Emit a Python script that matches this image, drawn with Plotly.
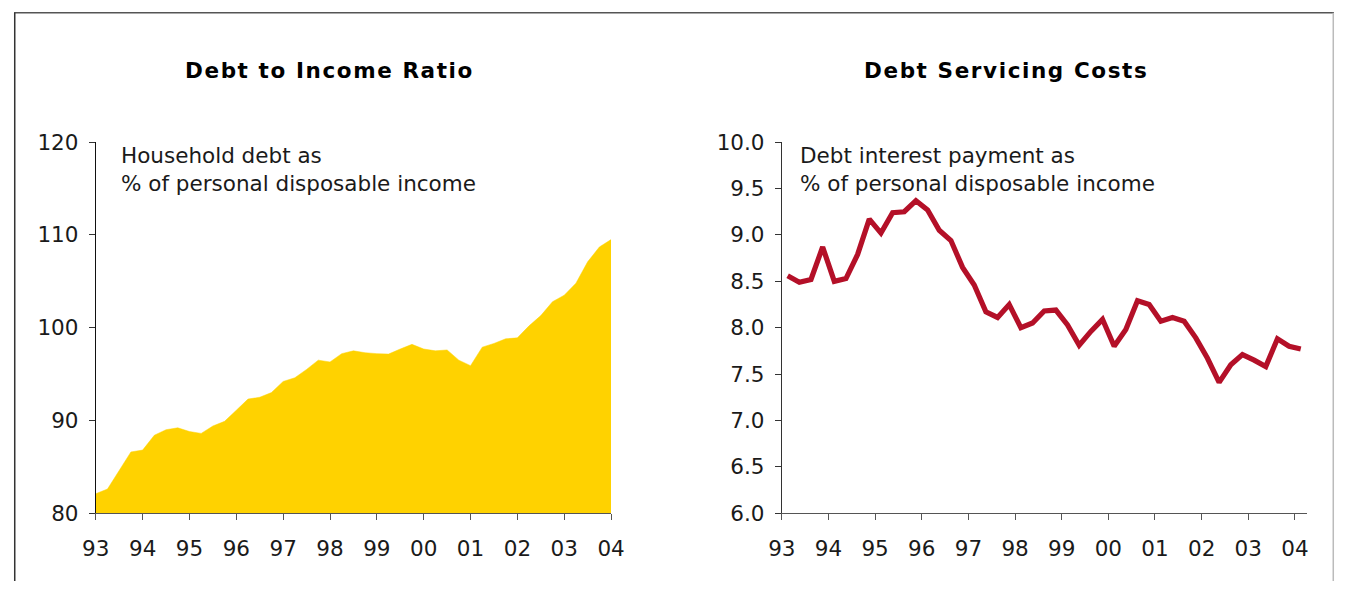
import plotly.graph_objects as go

W, H = 1348, 594

# Quarterly observations, 1993 Q1 to 2004 Q1
quarters = [f"{y}Q{q}" for y in range(1993, 2005) for q in range(1, 5)][:45]
year_labels = ["93", "94", "95", "96", "97", "98", "99", "00", "01", "02", "03", "04"]

# Household debt as % of personal disposable income
debt_to_income = [
    82.1, 82.6, 84.6, 86.6, 86.8, 88.4, 89.0, 89.2, 88.8, 88.6,
    89.4, 89.9, 91.1, 92.3, 92.5, 93.0, 94.2, 94.6, 95.5, 96.5,
    96.3, 97.2, 97.5, 97.3, 97.2, 97.15, 97.7, 98.2, 97.7, 97.5,
    97.6, 96.5, 95.9, 97.9, 98.3, 98.8, 98.9, 100.2, 101.3, 102.8,
    103.5, 104.8, 107.1, 108.7, 109.5,
]

# Debt interest payments as % of personal disposable income
debt_servicing = [
    8.56, 8.49, 8.52, 8.87, 8.50, 8.53, 8.79, 9.17, 9.02, 9.24,
    9.25, 9.37, 9.27, 9.05, 8.94, 8.65, 8.46, 8.17, 8.11, 8.25,
    8.00, 8.05, 8.18, 8.19, 8.03, 7.81, 7.96, 8.09, 7.80, 7.98,
    8.29, 8.25, 8.07, 8.11, 8.07, 7.89, 7.67, 7.41, 7.60, 7.71,
    7.65, 7.58, 7.88, 7.80, 7.77,
]

idx = list(range(len(quarters)))
year_idx = [i for i, q in enumerate(quarters) if q.endswith("Q1")]

YELLOW = "#FFD200"
RED = "#B41028"
TEXT = "#1a1a1a"
FONT = "DejaVu Sans"

# Page inset: screen position = scale * layout position + offset
SX, BX = 0.9806, 13.1
SY, BY = 0.958, 11.8


def px_x(t):
    return min(max(((t - BX) / SX) / W, 0.0), 1.0)


def px_y(t):
    return min(max(1 - ((t - BY) / SY) / H, 0.0), 1.0)


fig = go.Figure()

fig.add_trace(go.Scatter(
    x=idx, y=debt_to_income, mode="lines", fill="tozeroy",
    fillcolor=YELLOW, line=dict(color=YELLOW, width=0.5),
    xaxis="x", yaxis="y", customdata=quarters,
))

fig.add_trace(go.Scatter(
    x=idx, y=debt_servicing, mode="lines",
    line=dict(color=RED, width=5.2, shape="linear"),
    xaxis="x2", yaxis="y2", customdata=quarters,
))

ydom = [px_y(513), px_y(142)]

axis_common = dict(
    showgrid=False, zeroline=False, showline=True,
    ticks="outside", ticklen=6, tickwidth=1,
    tickfont=dict(family=FONT, size=21.5, color=TEXT),
)

fig.update_layout(
    width=W, height=H,
    margin=dict(l=0, r=0, t=0, b=0),
    paper_bgcolor="white", plot_bgcolor="white",
    showlegend=False,
    xaxis=dict(
        domain=[px_x(95), px_x(611)], range=[0, 44],
        tickvals=year_idx, ticktext=year_labels,
        linecolor="#555555", tickcolor="#555555", ticklabelstandoff=10,
        anchor="y", **axis_common,
    ),
    yaxis=dict(
        domain=ydom, range=[80, 120], tickvals=[80, 90, 100, 110, 120],
        linecolor="#111111", tickcolor="#333333", ticklabelstandoff=6,
        anchor="x", **axis_common,
    ),
    xaxis2=dict(
        domain=[px_x(782), px_x(1307.5)], range=[-0.5, 44.5],
        tickvals=[i - 0.5 for i in year_idx], ticktext=year_labels,
        linecolor="#555555", tickcolor="#555555", ticklabelstandoff=10,
        anchor="y2", **axis_common,
    ),
    yaxis2=dict(
        domain=ydom, range=[6.0, 10.0],
        tickvals=[6.0, 6.5, 7.0, 7.5, 8.0, 8.5, 9.0, 9.5, 10.0],
        tickformat=".1f",
        linecolor="#333333", tickcolor="#333333", ticklabelstandoff=6,
        anchor="x2", **axis_common,
    ),
)

# Chart titles
for text, cx in [("Debt to Income Ratio", 329), ("Debt Servicing Costs", 1006)]:
    fig.add_annotation(
        text=f'<b><span style="letter-spacing:1.6px">{text}</span></b>',
        xref="paper", yref="paper",
        x=px_x(cx), y=px_y(70), xanchor="center", yanchor="middle",
        showarrow=False, font=dict(family=FONT, size=21.5, color="#000000"),
    )

# Series descriptions inside each panel
for text, lx in [
    ("Household debt as<br>% of personal disposable income", 118),
    ("Debt interest payment as<br>% of personal disposable income", 798),
]:
    fig.add_annotation(
        text=text, xref="paper", yref="paper",
        x=px_x(lx), y=px_y(141), xanchor="left", yanchor="top",
        align="left", showarrow=False,
        font=dict(family=FONT, size=21.5, color=TEXT),
    )

# Outer frame
fig.add_shape(type="line", xref="paper", yref="paper",
              x0=0, x1=1, y0=1 - 0.75 / H, y1=1 - 0.75 / H,
              line=dict(color="#555555", width=1.5))
fig.add_shape(type="line", xref="paper", yref="paper",
              x0=0.75 / W, x1=0.75 / W, y0=1 - 0.75 / H, y1=0,
              line=dict(color="#333333", width=1.5))
fig.add_shape(type="line", xref="paper", yref="paper",
              x0=1 - 0.75 / W, x1=1 - 0.75 / W, y0=1 - 0.75 / H, y1=0,
              line=dict(color="#bbbbbb", width=1.5))

fig.write_html("out.html")
